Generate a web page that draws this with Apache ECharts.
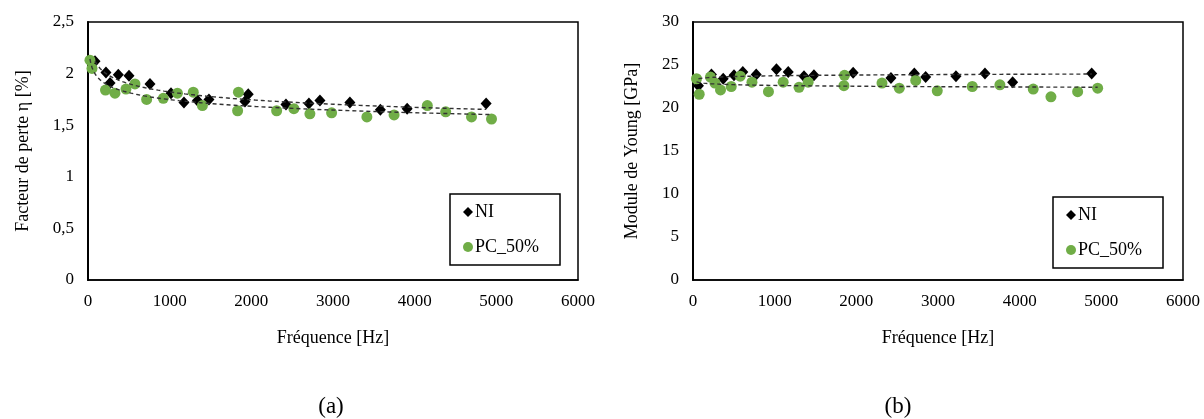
<!DOCTYPE html>
<html><head><meta charset="utf-8">
<script src="https://cdn.jsdelivr.net/npm/echarts@6/dist/echarts.min.js"></script>
<style>html,body{margin:0;padding:0;background:#fff}#c{width:1204px;height:419px}</style>
</head><body><div id="c"></div>
<script>
// ---- (a) Facteur de perte ----
const lossNI_x = [86, 220, 270, 371, 502, 759, 1016, 1175, 1340, 1481, 1922, 1962, 2424, 2705, 2840, 3207, 3580, 3908, 4875];
const lossNI_y = [2.12, 2.01, 1.91, 1.99, 1.98, 1.90, 1.81, 1.72, 1.74, 1.75, 1.73, 1.80, 1.70, 1.71, 1.74, 1.72, 1.65, 1.66, 1.71];
const lossPC_x = [24, 49, 214, 330, 465, 575, 718, 922, 1095, 1289, 1401, 1842, 1832, 2310, 2521, 2717, 2983, 3415, 3748, 4155, 4380, 4696, 4941];
const lossPC_y = [2.13, 2.05, 1.84, 1.81, 1.85, 1.90, 1.75, 1.76, 1.81, 1.82, 1.69, 1.82, 1.64, 1.64, 1.66, 1.61, 1.62, 1.58, 1.60, 1.69, 1.63, 1.58, 1.56];
// ---- (b) Module de Young ----
const youngNI_x = [67, 226, 370, 502, 610, 774, 1022, 1166, 1359, 1481, 1961, 2424, 2710, 2849, 3220, 3575, 3914, 4882];
const youngNI_y = [22.6, 23.9, 23.4, 23.8, 24.2, 23.9, 24.5, 24.2, 23.7, 23.8, 24.1, 23.5, 24.0, 23.6, 23.7, 24.0, 23.0, 24.0];
const youngPC_x = [43, 76, 213, 269, 337, 468, 578, 722, 924, 1104, 1298, 1410, 1848, 1855, 2314, 2526, 2727, 2991, 3420, 3758, 4166, 4383, 4710, 4955];
const youngPC_y = [23.4, 21.6, 23.6, 22.9, 22.1, 22.5, 23.7, 23.0, 21.9, 23.0, 22.4, 23.0, 22.6, 23.8, 22.9, 22.3, 23.2, 22.0, 22.5, 22.7, 22.2, 21.3, 21.9, 22.3];
// ---- axes ----
const xTicks = {min: 0, max: 6000, interval: 1000};
const lossTicks = {min: 0, max: 2.5, interval: 0.5};
const youngTicks = {min: 0, max: 30, interval: 5};
const seriesNames = ['NI', 'PC_50%'];
const xTitle = 'Fréquence [Hz]';
const yTitles = ['Facteur de perte η [%]', 'Module de Young [GPa]'];
const panelLabels = ['(a)', '(b)'];

const FONT = "'Liberation Serif', 'Times New Roman', serif";
const pairs = (xs, ys) => xs.map((x, i) => [x, ys[i]]);
// Excel-style power trendline (least squares on ln x, ln y)
function powerTrend(xs, ys) {
  const n = xs.length;
  let sx = 0, sy = 0, sxx = 0, sxy = 0;
  for (let i = 0; i < n; i++) {
    const lx = Math.log(xs[i]), ly = Math.log(ys[i]);
    sx += lx; sy += ly; sxx += lx * lx; sxy += lx * ly;
  }
  const b = (n * sxy - sx * sy) / (n * sxx - sx * sx);
  const a = Math.exp((sy - b * sx) / n);
  const lo = Math.min(...xs), hi = Math.max(...xs);
  const out = [];
  const N = 200;
  for (let k = 0; k <= N; k++) {
    const x = lo * Math.pow(hi / lo, k / N);
    out.push([x, a * Math.pow(x, b)]);
  }
  return out;
}

const grids = [
  {left: 88, top: 22, width: 490, height: 258},
  {left: 693, top: 22, width: 490, height: 258}
];
const axisLineStyle = {color: '#000', width: 1.5};

function xAxis(gi) {
  return {
    type: 'value', gridIndex: gi, ...xTicks,
    name: xTitle, nameLocation: 'middle', nameGap: 49,
    nameTextStyle: {fontFamily: FONT, fontSize: 18, color: '#000'},
    axisLine: {show: true, onZero: false, lineStyle: axisLineStyle},
    axisTick: {show: false}, splitLine: {show: false},
    axisLabel: {fontFamily: FONT, fontSize: 17, color: '#000', margin: 13, showMaxLabel: true,
      formatter: v => String(v)}
  };
}
function yAxis(gi, ticks, title, gap) {
  return {
    type: 'value', gridIndex: gi, ...ticks,
    name: title, nameLocation: 'middle', nameGap: gap, nameRotate: 90,
    nameTextStyle: {fontFamily: FONT, fontSize: 18, color: '#000'},
    axisLine: {show: true, lineStyle: {color: '#000', width: 2}},
    axisTick: {show: false}, splitLine: {show: false},
    axisLabel: {fontFamily: FONT, fontSize: 17, color: '#000', margin: 14,
      formatter: v => String(v).replace('.', ',')}
  };
}
function scatter(name, gi, xs, ys, isNI) {
  return {
    name, type: 'scatter', xAxisIndex: gi, yAxisIndex: gi,
    data: pairs(xs, ys),
    symbol: isNI ? 'diamond' : 'circle',
    symbolSize: isNI ? [11, 12] : 11,
    itemStyle: {color: isNI ? '#000' : '#70AD47', opacity: 1},
    z: isNI ? 2 : 3
  };
}
function trend(name, gi, xs, ys) {
  return {
    name, type: 'line', xAxisIndex: gi, yAxisIndex: gi,
    data: powerTrend(xs, ys), showSymbol: false, symbol: 'none', smooth: false,
    lineStyle: {color: '#333', width: 1.4, type: [4, 3]}, z: 4, silent: true
  };
}
function legend(left, top) {
  return {
    data: seriesNames, orient: 'vertical', left, top,
    backgroundColor: '#fff', borderColor: '#000', borderWidth: 1.5,
    padding: [9, 21, 9, 13], itemGap: 17, itemWidth: 10, itemHeight: 10,
    textStyle: {fontFamily: FONT, fontSize: 18, color: '#000', padding: [0, 0, 0, -3]}
  };
}

const chart = echarts.init(document.getElementById('c'), null, {renderer: 'canvas'});
chart.setOption({
  backgroundColor: '#fff',
  animation: false,
  title: [
    {text: panelLabels[0], left: 326, top: 390, textAlign: 'center',
     textStyle: {fontFamily: FONT, fontSize: 23, fontWeight: 'normal', color: '#000'}},
    {text: panelLabels[1], left: 893, top: 390, textAlign: 'center',
     textStyle: {fontFamily: FONT, fontSize: 23, fontWeight: 'normal', color: '#000'}}
  ],
  legend: [legend(450, 194), legend(1053, 197)],
  grid: grids.map(g => ({...g, show: true, borderColor: '#000', borderWidth: 1.5, containLabel: false})),
  xAxis: [xAxis(0), xAxis(1)],
  yAxis: [yAxis(0, lossTicks, yTitles[0], 56), yAxis(1, youngTicks, yTitles[1], 52)],
  series: [
    scatter(seriesNames[0], 0, lossNI_x, lossNI_y, true),
    scatter(seriesNames[1], 0, lossPC_x, lossPC_y, false),
    trend('trend NI a', 0, lossNI_x, lossNI_y),
    trend('trend PC a', 0, lossPC_x, lossPC_y),
    scatter(seriesNames[0], 1, youngNI_x, youngNI_y, true),
    scatter(seriesNames[1], 1, youngPC_x, youngPC_y, false),
    trend('trend NI b', 1, youngNI_x, youngNI_y),
    trend('trend PC b', 1, youngPC_x, youngPC_y)
  ]
});
</script></body></html>
